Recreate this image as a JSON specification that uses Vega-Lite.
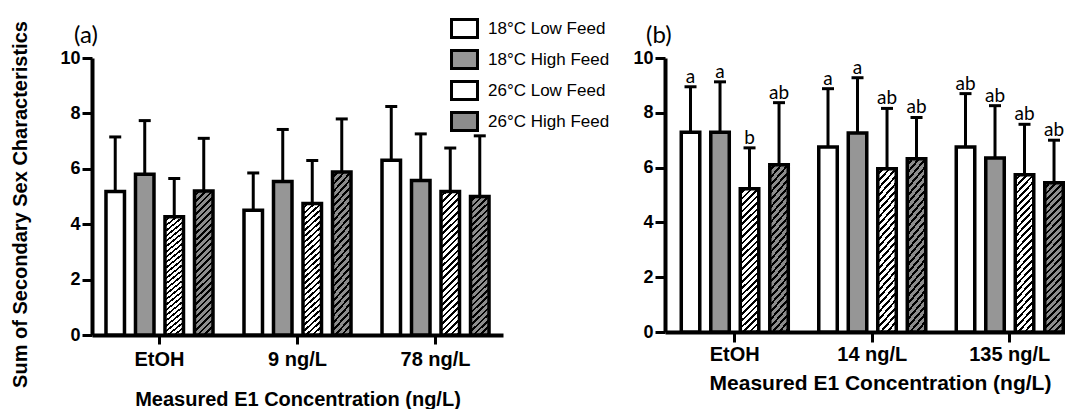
{
  "$schema": "https://vega.github.io/schema/vega-lite/v6.json",
  "background": "white",
  "padding": {"left": 10, "top": 15, "right": 0, "bottom": 0},
  "config": {
    "view": {"stroke": null},
    "font": "Liberation Sans",
    "axis": {"domainColor": "black", "domainWidth": 4, "tickColor": "black", "tickWidth": 3, "labelColor": "black", "labelFont": "Liberation Sans", "labelFontWeight": "bold", "titleFont": "Liberation Sans", "titleFontWeight": "bold", "titleColor": "black", "grid": false}
  },
  "resolve": {"scale": {"fill": "shared"}, "legend": {"fill": "shared"}},
  "datasets": {
    "d": [
      {"panel": "a", "conc": "EtOH", "group": "18°C Low Feed", "mean": 5.18, "upper": 7.15, "letter": ""},
      {"panel": "a", "conc": "EtOH", "group": "18°C High Feed", "mean": 5.8, "upper": 7.74, "letter": ""},
      {"panel": "a", "conc": "EtOH", "group": "26°C Low Feed", "mean": 4.27, "upper": 5.65, "letter": ""},
      {"panel": "a", "conc": "EtOH", "group": "26°C High Feed", "mean": 5.2, "upper": 7.1, "letter": ""},
      {"panel": "a", "conc": "9 ng/L", "group": "18°C Low Feed", "mean": 4.5, "upper": 5.85, "letter": ""},
      {"panel": "a", "conc": "9 ng/L", "group": "18°C High Feed", "mean": 5.54, "upper": 7.42, "letter": ""},
      {"panel": "a", "conc": "9 ng/L", "group": "26°C Low Feed", "mean": 4.75, "upper": 6.3, "letter": ""},
      {"panel": "a", "conc": "9 ng/L", "group": "26°C High Feed", "mean": 5.88, "upper": 7.8, "letter": ""},
      {"panel": "a", "conc": "78 ng/L", "group": "18°C Low Feed", "mean": 6.31, "upper": 8.25, "letter": ""},
      {"panel": "a", "conc": "78 ng/L", "group": "18°C High Feed", "mean": 5.58, "upper": 7.26, "letter": ""},
      {"panel": "a", "conc": "78 ng/L", "group": "26°C Low Feed", "mean": 5.18, "upper": 6.75, "letter": ""},
      {"panel": "a", "conc": "78 ng/L", "group": "26°C High Feed", "mean": 5.0, "upper": 7.19, "letter": ""},
      {"panel": "b", "conc": "EtOH", "group": "18°C Low Feed", "mean": 7.29, "upper": 8.95, "letter": "a"},
      {"panel": "b", "conc": "EtOH", "group": "18°C High Feed", "mean": 7.29, "upper": 9.13, "letter": "a"},
      {"panel": "b", "conc": "EtOH", "group": "26°C Low Feed", "mean": 5.23, "upper": 6.72, "letter": "b"},
      {"panel": "b", "conc": "EtOH", "group": "26°C High Feed", "mean": 6.1, "upper": 8.37, "letter": "ab"},
      {"panel": "b", "conc": "14 ng/L", "group": "18°C Low Feed", "mean": 6.75, "upper": 8.88, "letter": "a"},
      {"panel": "b", "conc": "14 ng/L", "group": "18°C High Feed", "mean": 7.26, "upper": 9.28, "letter": "a"},
      {"panel": "b", "conc": "14 ng/L", "group": "26°C Low Feed", "mean": 5.96, "upper": 8.16, "letter": "ab"},
      {"panel": "b", "conc": "14 ng/L", "group": "26°C High Feed", "mean": 6.32, "upper": 7.83, "letter": "ab"},
      {"panel": "b", "conc": "135 ng/L", "group": "18°C Low Feed", "mean": 6.75, "upper": 8.7, "letter": "ab"},
      {"panel": "b", "conc": "135 ng/L", "group": "18°C High Feed", "mean": 6.35, "upper": 8.26, "letter": "ab"},
      {"panel": "b", "conc": "135 ng/L", "group": "26°C Low Feed", "mean": 5.74, "upper": 7.58, "letter": "ab"},
      {"panel": "b", "conc": "135 ng/L", "group": "26°C High Feed", "mean": 5.45, "upper": 7.0, "letter": "ab"}
    ]
  },
  "spacing": 129,
  "hconcat": [
    {
      "width": 411,
      "height": 277,
      "title": {"text": "(a)", "anchor": "start", "frame": "group", "font": "Lato", "fontSize": 24, "fontWeight": "normal", "color": "black", "dx": -18, "offset": -27.5},
      "data": {"name": "d"},
      "transform": [{"filter": "datum.panel === 'a'"}],
      "encoding": {
        "x": {"field": "conc", "type": "nominal", "sort": ["EtOH", "9 ng/L", "78 ng/L"], "scale": {"paddingInner": 0.2246, "paddingOuter": 0.1013, "round": false},
              "axis": {"title": "Measured E1 Concentration (ng/L)", "labelAngle": 0, "labelFontSize": 20, "tickSize": 9, "labelPadding": 5, "titleFontSize": 20, "titlePadding": 20}},
        "xOffset": {"field": "group", "type": "nominal", "sort": ["18°C Low Feed", "18°C High Feed", "26°C Low Feed", "26°C High Feed"], "scale": {"paddingInner": 0.373, "paddingOuter": 0}}
      },
      "layer": [
        {
          "mark": {"type": "bar", "stroke": "black", "strokeWidth": 3.5, "opacity": 1},
          "encoding": {
            "y": {"field": "mean", "type": "quantitative", "scale": {"domain": [0, 10], "nice": false},
                  "axis": {"values": [0, 2, 4, 6, 8, 10], "labelFontSize": 18, "tickSize": 10, "labelPadding": 2, "title": "Sum of Secondary Sex Characteristics", "titleFontSize": 20, "titlePadding": 29, "titleY": 146}},
            "fill": {
              "condition": [
                {"test": "datum.group === '26°C Low Feed'", "value": {"gradient": "linear", "x1": 0, "y1": 0, "x2": 0.14, "y2": 1.1, "stops": [
{"offset":0,"color":"#fff"},{"offset":0.024,"color":"#fff"},{"offset":0.024,"color":"#000"},{"offset":0.04,"color":"#000"},
{"offset":0.04,"color":"#fff"},{"offset":0.064,"color":"#fff"},{"offset":0.064,"color":"#000"},{"offset":0.08,"color":"#000"},
{"offset":0.08,"color":"#fff"},{"offset":0.104,"color":"#fff"},{"offset":0.104,"color":"#000"},{"offset":0.12,"color":"#000"},
{"offset":0.12,"color":"#fff"},{"offset":0.144,"color":"#fff"},{"offset":0.144,"color":"#000"},{"offset":0.16,"color":"#000"},
{"offset":0.16,"color":"#fff"},{"offset":0.184,"color":"#fff"},{"offset":0.184,"color":"#000"},{"offset":0.2,"color":"#000"},
{"offset":0.2,"color":"#fff"},{"offset":0.224,"color":"#fff"},{"offset":0.224,"color":"#000"},{"offset":0.24,"color":"#000"},
{"offset":0.24,"color":"#fff"},{"offset":0.264,"color":"#fff"},{"offset":0.264,"color":"#000"},{"offset":0.28,"color":"#000"},
{"offset":0.28,"color":"#fff"},{"offset":0.304,"color":"#fff"},{"offset":0.304,"color":"#000"},{"offset":0.32,"color":"#000"},
{"offset":0.32,"color":"#fff"},{"offset":0.344,"color":"#fff"},{"offset":0.344,"color":"#000"},{"offset":0.36,"color":"#000"},
{"offset":0.36,"color":"#fff"},{"offset":0.384,"color":"#fff"},{"offset":0.384,"color":"#000"},{"offset":0.4,"color":"#000"},
{"offset":0.4,"color":"#fff"},{"offset":0.424,"color":"#fff"},{"offset":0.424,"color":"#000"},{"offset":0.44,"color":"#000"},
{"offset":0.44,"color":"#fff"},{"offset":0.464,"color":"#fff"},{"offset":0.464,"color":"#000"},{"offset":0.48,"color":"#000"},
{"offset":0.48,"color":"#fff"},{"offset":0.504,"color":"#fff"},{"offset":0.504,"color":"#000"},{"offset":0.52,"color":"#000"},
{"offset":0.52,"color":"#fff"},{"offset":0.544,"color":"#fff"},{"offset":0.544,"color":"#000"},{"offset":0.56,"color":"#000"},
{"offset":0.56,"color":"#fff"},{"offset":0.584,"color":"#fff"},{"offset":0.584,"color":"#000"},{"offset":0.6,"color":"#000"},
{"offset":0.6,"color":"#fff"},{"offset":0.624,"color":"#fff"},{"offset":0.624,"color":"#000"},{"offset":0.64,"color":"#000"},
{"offset":0.64,"color":"#fff"},{"offset":0.664,"color":"#fff"},{"offset":0.664,"color":"#000"},{"offset":0.68,"color":"#000"},
{"offset":0.68,"color":"#fff"},{"offset":0.704,"color":"#fff"},{"offset":0.704,"color":"#000"},{"offset":0.72,"color":"#000"},
{"offset":0.72,"color":"#fff"},{"offset":0.744,"color":"#fff"},{"offset":0.744,"color":"#000"},{"offset":0.76,"color":"#000"},
{"offset":0.76,"color":"#fff"},{"offset":0.784,"color":"#fff"},{"offset":0.784,"color":"#000"},{"offset":0.8,"color":"#000"},
{"offset":0.8,"color":"#fff"},{"offset":0.824,"color":"#fff"},{"offset":0.824,"color":"#000"},{"offset":0.84,"color":"#000"},
{"offset":0.84,"color":"#fff"},{"offset":0.864,"color":"#fff"},{"offset":0.864,"color":"#000"},{"offset":0.88,"color":"#000"},
{"offset":0.88,"color":"#fff"},{"offset":0.904,"color":"#fff"},{"offset":0.904,"color":"#000"},{"offset":0.92,"color":"#000"},
{"offset":0.92,"color":"#fff"},{"offset":0.944,"color":"#fff"},{"offset":0.944,"color":"#000"},{"offset":0.96,"color":"#000"},
{"offset":0.96,"color":"#fff"},{"offset":0.984,"color":"#fff"},{"offset":0.984,"color":"#000"},{"offset":1,"color":"#000"}
]}},
                {"test": "datum.group === '26°C High Feed'", "value": {"gradient": "linear", "x1": 0, "y1": 0, "x2": 0.14, "y2": 1.1, "stops": [
{"offset":0,"color":"#8c8c8c"},{"offset":0.024,"color":"#8c8c8c"},{"offset":0.024,"color":"#000"},{"offset":0.04,"color":"#000"},
{"offset":0.04,"color":"#8c8c8c"},{"offset":0.064,"color":"#8c8c8c"},{"offset":0.064,"color":"#000"},{"offset":0.08,"color":"#000"},
{"offset":0.08,"color":"#8c8c8c"},{"offset":0.104,"color":"#8c8c8c"},{"offset":0.104,"color":"#000"},{"offset":0.12,"color":"#000"},
{"offset":0.12,"color":"#8c8c8c"},{"offset":0.144,"color":"#8c8c8c"},{"offset":0.144,"color":"#000"},{"offset":0.16,"color":"#000"},
{"offset":0.16,"color":"#8c8c8c"},{"offset":0.184,"color":"#8c8c8c"},{"offset":0.184,"color":"#000"},{"offset":0.2,"color":"#000"},
{"offset":0.2,"color":"#8c8c8c"},{"offset":0.224,"color":"#8c8c8c"},{"offset":0.224,"color":"#000"},{"offset":0.24,"color":"#000"},
{"offset":0.24,"color":"#8c8c8c"},{"offset":0.264,"color":"#8c8c8c"},{"offset":0.264,"color":"#000"},{"offset":0.28,"color":"#000"},
{"offset":0.28,"color":"#8c8c8c"},{"offset":0.304,"color":"#8c8c8c"},{"offset":0.304,"color":"#000"},{"offset":0.32,"color":"#000"},
{"offset":0.32,"color":"#8c8c8c"},{"offset":0.344,"color":"#8c8c8c"},{"offset":0.344,"color":"#000"},{"offset":0.36,"color":"#000"},
{"offset":0.36,"color":"#8c8c8c"},{"offset":0.384,"color":"#8c8c8c"},{"offset":0.384,"color":"#000"},{"offset":0.4,"color":"#000"},
{"offset":0.4,"color":"#8c8c8c"},{"offset":0.424,"color":"#8c8c8c"},{"offset":0.424,"color":"#000"},{"offset":0.44,"color":"#000"},
{"offset":0.44,"color":"#8c8c8c"},{"offset":0.464,"color":"#8c8c8c"},{"offset":0.464,"color":"#000"},{"offset":0.48,"color":"#000"},
{"offset":0.48,"color":"#8c8c8c"},{"offset":0.504,"color":"#8c8c8c"},{"offset":0.504,"color":"#000"},{"offset":0.52,"color":"#000"},
{"offset":0.52,"color":"#8c8c8c"},{"offset":0.544,"color":"#8c8c8c"},{"offset":0.544,"color":"#000"},{"offset":0.56,"color":"#000"},
{"offset":0.56,"color":"#8c8c8c"},{"offset":0.584,"color":"#8c8c8c"},{"offset":0.584,"color":"#000"},{"offset":0.6,"color":"#000"},
{"offset":0.6,"color":"#8c8c8c"},{"offset":0.624,"color":"#8c8c8c"},{"offset":0.624,"color":"#000"},{"offset":0.64,"color":"#000"},
{"offset":0.64,"color":"#8c8c8c"},{"offset":0.664,"color":"#8c8c8c"},{"offset":0.664,"color":"#000"},{"offset":0.68,"color":"#000"},
{"offset":0.68,"color":"#8c8c8c"},{"offset":0.704,"color":"#8c8c8c"},{"offset":0.704,"color":"#000"},{"offset":0.72,"color":"#000"},
{"offset":0.72,"color":"#8c8c8c"},{"offset":0.744,"color":"#8c8c8c"},{"offset":0.744,"color":"#000"},{"offset":0.76,"color":"#000"},
{"offset":0.76,"color":"#8c8c8c"},{"offset":0.784,"color":"#8c8c8c"},{"offset":0.784,"color":"#000"},{"offset":0.8,"color":"#000"},
{"offset":0.8,"color":"#8c8c8c"},{"offset":0.824,"color":"#8c8c8c"},{"offset":0.824,"color":"#000"},{"offset":0.84,"color":"#000"},
{"offset":0.84,"color":"#8c8c8c"},{"offset":0.864,"color":"#8c8c8c"},{"offset":0.864,"color":"#000"},{"offset":0.88,"color":"#000"},
{"offset":0.88,"color":"#8c8c8c"},{"offset":0.904,"color":"#8c8c8c"},{"offset":0.904,"color":"#000"},{"offset":0.92,"color":"#000"},
{"offset":0.92,"color":"#8c8c8c"},{"offset":0.944,"color":"#8c8c8c"},{"offset":0.944,"color":"#000"},{"offset":0.96,"color":"#000"},
{"offset":0.96,"color":"#8c8c8c"},{"offset":0.984,"color":"#8c8c8c"},{"offset":0.984,"color":"#000"},{"offset":1,"color":"#000"}
]}}
              ],
              "field": "group", "type": "nominal",
              "scale": {"domain": ["18°C Low Feed", "18°C High Feed", "26°C Low Feed", "26°C High Feed"], "range": ["#ffffff", "#969696", "#ffffff", "#8c8c8c"]},
              "legend": {
                "title": null, "orient": "none", "legendX": 359, "legendY": -43, "padding": 0,
                "symbolType": "M-1.083,-0.75L1.083,-0.75L1.083,0.75L-1.083,0.75Z", "symbolSize": 576, "symbolStrokeWidth": 3, "symbolStrokeColor": "black", "symbolOpacity": 1,
                "labelFontSize": 17, "labelFont": "Liberation Sans", "labelColor": "black", "labelOffset": 10, "rowPadding": 0
              }
            }
          }
        },
        {"mark": {"type": "rule", "strokeWidth": 3, "color": "black"}, "encoding": {"y": {"field": "mean", "type": "quantitative"}, "y2": {"field": "upper"}}},
        {"mark": {"type": "tick", "orient": "horizontal", "thickness": 3, "size": 12, "color": "black", "opacity": 1}, "encoding": {"y": {"field": "upper", "type": "quantitative"}}}
      ]
    },
    {
      "width": 400,
      "height": 274,
      "title": {"text": "(b)", "anchor": "start", "frame": "group", "font": "Lato", "fontSize": 24, "fontWeight": "normal", "color": "black", "dx": -19, "offset": 1.5},
      "data": {"name": "d"},
      "transform": [{"filter": "datum.panel === 'b'"}],
      "encoding": {
        "x": {"field": "conc", "type": "nominal", "sort": ["EtOH", "14 ng/L", "135 ng/L"], "scale": {"paddingInner": 0.2218, "paddingOuter": 0.0655, "align": 0.903, "round": false},
              "axis": {"title": "Measured E1 Concentration (ng/L)", "labelAngle": 0, "labelFontSize": 20, "tickSize": 10, "labelPadding": 2, "titleFontSize": 21, "titlePadding": 8, "titleX": 215}},
        "xOffset": {"field": "group", "type": "nominal", "sort": ["18°C Low Feed", "18°C High Feed", "26°C Low Feed", "26°C High Feed"], "scale": {"paddingInner": 0.373, "paddingOuter": 0}}
      },
      "layer": [
        {
          "mark": {"type": "bar", "stroke": "black", "strokeWidth": 3.5, "opacity": 1},
          "encoding": {
            "y": {"field": "mean", "type": "quantitative", "scale": {"domain": [0, 10], "nice": false},
                  "axis": {"values": [0, 2, 4, 6, 8, 10], "labelFontSize": 18, "tickSize": 10, "labelPadding": 2, "title": null}},
            "fill": {
              "condition": [
                {"test": "datum.group === '26°C Low Feed'", "value": {"gradient": "linear", "x1": 0, "y1": 0, "x2": 0.14, "y2": 1.1, "stops": [
{"offset":0,"color":"#fff"},{"offset":0.024,"color":"#fff"},{"offset":0.024,"color":"#000"},{"offset":0.04,"color":"#000"},
{"offset":0.04,"color":"#fff"},{"offset":0.064,"color":"#fff"},{"offset":0.064,"color":"#000"},{"offset":0.08,"color":"#000"},
{"offset":0.08,"color":"#fff"},{"offset":0.104,"color":"#fff"},{"offset":0.104,"color":"#000"},{"offset":0.12,"color":"#000"},
{"offset":0.12,"color":"#fff"},{"offset":0.144,"color":"#fff"},{"offset":0.144,"color":"#000"},{"offset":0.16,"color":"#000"},
{"offset":0.16,"color":"#fff"},{"offset":0.184,"color":"#fff"},{"offset":0.184,"color":"#000"},{"offset":0.2,"color":"#000"},
{"offset":0.2,"color":"#fff"},{"offset":0.224,"color":"#fff"},{"offset":0.224,"color":"#000"},{"offset":0.24,"color":"#000"},
{"offset":0.24,"color":"#fff"},{"offset":0.264,"color":"#fff"},{"offset":0.264,"color":"#000"},{"offset":0.28,"color":"#000"},
{"offset":0.28,"color":"#fff"},{"offset":0.304,"color":"#fff"},{"offset":0.304,"color":"#000"},{"offset":0.32,"color":"#000"},
{"offset":0.32,"color":"#fff"},{"offset":0.344,"color":"#fff"},{"offset":0.344,"color":"#000"},{"offset":0.36,"color":"#000"},
{"offset":0.36,"color":"#fff"},{"offset":0.384,"color":"#fff"},{"offset":0.384,"color":"#000"},{"offset":0.4,"color":"#000"},
{"offset":0.4,"color":"#fff"},{"offset":0.424,"color":"#fff"},{"offset":0.424,"color":"#000"},{"offset":0.44,"color":"#000"},
{"offset":0.44,"color":"#fff"},{"offset":0.464,"color":"#fff"},{"offset":0.464,"color":"#000"},{"offset":0.48,"color":"#000"},
{"offset":0.48,"color":"#fff"},{"offset":0.504,"color":"#fff"},{"offset":0.504,"color":"#000"},{"offset":0.52,"color":"#000"},
{"offset":0.52,"color":"#fff"},{"offset":0.544,"color":"#fff"},{"offset":0.544,"color":"#000"},{"offset":0.56,"color":"#000"},
{"offset":0.56,"color":"#fff"},{"offset":0.584,"color":"#fff"},{"offset":0.584,"color":"#000"},{"offset":0.6,"color":"#000"},
{"offset":0.6,"color":"#fff"},{"offset":0.624,"color":"#fff"},{"offset":0.624,"color":"#000"},{"offset":0.64,"color":"#000"},
{"offset":0.64,"color":"#fff"},{"offset":0.664,"color":"#fff"},{"offset":0.664,"color":"#000"},{"offset":0.68,"color":"#000"},
{"offset":0.68,"color":"#fff"},{"offset":0.704,"color":"#fff"},{"offset":0.704,"color":"#000"},{"offset":0.72,"color":"#000"},
{"offset":0.72,"color":"#fff"},{"offset":0.744,"color":"#fff"},{"offset":0.744,"color":"#000"},{"offset":0.76,"color":"#000"},
{"offset":0.76,"color":"#fff"},{"offset":0.784,"color":"#fff"},{"offset":0.784,"color":"#000"},{"offset":0.8,"color":"#000"},
{"offset":0.8,"color":"#fff"},{"offset":0.824,"color":"#fff"},{"offset":0.824,"color":"#000"},{"offset":0.84,"color":"#000"},
{"offset":0.84,"color":"#fff"},{"offset":0.864,"color":"#fff"},{"offset":0.864,"color":"#000"},{"offset":0.88,"color":"#000"},
{"offset":0.88,"color":"#fff"},{"offset":0.904,"color":"#fff"},{"offset":0.904,"color":"#000"},{"offset":0.92,"color":"#000"},
{"offset":0.92,"color":"#fff"},{"offset":0.944,"color":"#fff"},{"offset":0.944,"color":"#000"},{"offset":0.96,"color":"#000"},
{"offset":0.96,"color":"#fff"},{"offset":0.984,"color":"#fff"},{"offset":0.984,"color":"#000"},{"offset":1,"color":"#000"}
]}},
                {"test": "datum.group === '26°C High Feed'", "value": {"gradient": "linear", "x1": 0, "y1": 0, "x2": 0.14, "y2": 1.1, "stops": [
{"offset":0,"color":"#8c8c8c"},{"offset":0.024,"color":"#8c8c8c"},{"offset":0.024,"color":"#000"},{"offset":0.04,"color":"#000"},
{"offset":0.04,"color":"#8c8c8c"},{"offset":0.064,"color":"#8c8c8c"},{"offset":0.064,"color":"#000"},{"offset":0.08,"color":"#000"},
{"offset":0.08,"color":"#8c8c8c"},{"offset":0.104,"color":"#8c8c8c"},{"offset":0.104,"color":"#000"},{"offset":0.12,"color":"#000"},
{"offset":0.12,"color":"#8c8c8c"},{"offset":0.144,"color":"#8c8c8c"},{"offset":0.144,"color":"#000"},{"offset":0.16,"color":"#000"},
{"offset":0.16,"color":"#8c8c8c"},{"offset":0.184,"color":"#8c8c8c"},{"offset":0.184,"color":"#000"},{"offset":0.2,"color":"#000"},
{"offset":0.2,"color":"#8c8c8c"},{"offset":0.224,"color":"#8c8c8c"},{"offset":0.224,"color":"#000"},{"offset":0.24,"color":"#000"},
{"offset":0.24,"color":"#8c8c8c"},{"offset":0.264,"color":"#8c8c8c"},{"offset":0.264,"color":"#000"},{"offset":0.28,"color":"#000"},
{"offset":0.28,"color":"#8c8c8c"},{"offset":0.304,"color":"#8c8c8c"},{"offset":0.304,"color":"#000"},{"offset":0.32,"color":"#000"},
{"offset":0.32,"color":"#8c8c8c"},{"offset":0.344,"color":"#8c8c8c"},{"offset":0.344,"color":"#000"},{"offset":0.36,"color":"#000"},
{"offset":0.36,"color":"#8c8c8c"},{"offset":0.384,"color":"#8c8c8c"},{"offset":0.384,"color":"#000"},{"offset":0.4,"color":"#000"},
{"offset":0.4,"color":"#8c8c8c"},{"offset":0.424,"color":"#8c8c8c"},{"offset":0.424,"color":"#000"},{"offset":0.44,"color":"#000"},
{"offset":0.44,"color":"#8c8c8c"},{"offset":0.464,"color":"#8c8c8c"},{"offset":0.464,"color":"#000"},{"offset":0.48,"color":"#000"},
{"offset":0.48,"color":"#8c8c8c"},{"offset":0.504,"color":"#8c8c8c"},{"offset":0.504,"color":"#000"},{"offset":0.52,"color":"#000"},
{"offset":0.52,"color":"#8c8c8c"},{"offset":0.544,"color":"#8c8c8c"},{"offset":0.544,"color":"#000"},{"offset":0.56,"color":"#000"},
{"offset":0.56,"color":"#8c8c8c"},{"offset":0.584,"color":"#8c8c8c"},{"offset":0.584,"color":"#000"},{"offset":0.6,"color":"#000"},
{"offset":0.6,"color":"#8c8c8c"},{"offset":0.624,"color":"#8c8c8c"},{"offset":0.624,"color":"#000"},{"offset":0.64,"color":"#000"},
{"offset":0.64,"color":"#8c8c8c"},{"offset":0.664,"color":"#8c8c8c"},{"offset":0.664,"color":"#000"},{"offset":0.68,"color":"#000"},
{"offset":0.68,"color":"#8c8c8c"},{"offset":0.704,"color":"#8c8c8c"},{"offset":0.704,"color":"#000"},{"offset":0.72,"color":"#000"},
{"offset":0.72,"color":"#8c8c8c"},{"offset":0.744,"color":"#8c8c8c"},{"offset":0.744,"color":"#000"},{"offset":0.76,"color":"#000"},
{"offset":0.76,"color":"#8c8c8c"},{"offset":0.784,"color":"#8c8c8c"},{"offset":0.784,"color":"#000"},{"offset":0.8,"color":"#000"},
{"offset":0.8,"color":"#8c8c8c"},{"offset":0.824,"color":"#8c8c8c"},{"offset":0.824,"color":"#000"},{"offset":0.84,"color":"#000"},
{"offset":0.84,"color":"#8c8c8c"},{"offset":0.864,"color":"#8c8c8c"},{"offset":0.864,"color":"#000"},{"offset":0.88,"color":"#000"},
{"offset":0.88,"color":"#8c8c8c"},{"offset":0.904,"color":"#8c8c8c"},{"offset":0.904,"color":"#000"},{"offset":0.92,"color":"#000"},
{"offset":0.92,"color":"#8c8c8c"},{"offset":0.944,"color":"#8c8c8c"},{"offset":0.944,"color":"#000"},{"offset":0.96,"color":"#000"},
{"offset":0.96,"color":"#8c8c8c"},{"offset":0.984,"color":"#8c8c8c"},{"offset":0.984,"color":"#000"},{"offset":1,"color":"#000"}
]}},
                {"test": "datum.group === '18°C High Feed'", "value": "#969696"}
              ],
              "value": "#ffffff"
            }
          }
        },
        {"mark": {"type": "rule", "strokeWidth": 3, "color": "black"}, "encoding": {"y": {"field": "mean", "type": "quantitative"}, "y2": {"field": "upper"}}},
        {"mark": {"type": "tick", "orient": "horizontal", "thickness": 3, "size": 12, "color": "black", "opacity": 1}, "encoding": {"y": {"field": "upper", "type": "quantitative"}}},
        {"mark": {"type": "text", "font": "Lato", "fontSize": 19, "baseline": "alphabetic", "dy": -4, "color": "black"}, "encoding": {"y": {"field": "upper", "type": "quantitative"}, "text": {"field": "letter"}}}
      ]
    }
  ]
}
